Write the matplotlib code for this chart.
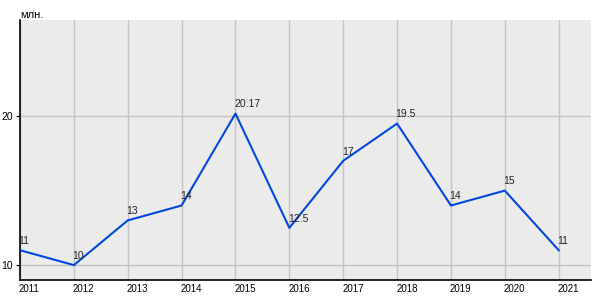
import matplotlib.pyplot as plt
import matplotlib.transforms as mtransforms

plt.rcParams['font.family'] = ['Liberation Sans', 'DejaVu Sans']

years = [2011, 2012, 2013, 2014, 2015, 2016, 2017, 2018, 2019, 2020, 2021]
values = [11, 10, 13, 14, 20.17, 12.5, 17, 19.5, 14, 15, 11]
labels = ['11', '10', '13', '14', '20.17', '12.5', '17', '19.5', '14', '15', '11']

fig = plt.figure(figsize=(6, 3), dpi=100)
ax = fig.add_axes([20 / 600, 20 / 300, 571 / 600, 260 / 300])
ax.set_facecolor('#ebebeb')

ax.plot(years, values, color='#0047e0', linewidth=1.5, zorder=3)
for x, y, t in zip(years, values, labels):
    ax.annotate(t, (x, y), xytext=(-1, 3), textcoords='offset points',
                fontsize=7.5, color='#222222', ha='left', va='bottom', zorder=4)

ax.set_xlim(2011, 2021.6)
ax.set_ylim(9.0, 26.45)
ax.set_xticks(years)
ax.set_xticklabels([])
ax.set_yticks([10, 20])
ax.grid(True, color='#c4c4c4', linewidth=1)
ax.set_axisbelow(True)

for s in ['top', 'right']:
    ax.spines[s].set_visible(False)
ax.spines['left'].set_linewidth(1.2)
ax.spines['bottom'].set_linewidth(1.2)
ax.tick_params(axis='x', length=0)
ax.tick_params(axis='y', length=3, labelsize=7.5, pad=2)

# year labels start at their tick, as in the original
trans = ax.get_xaxis_transform() + mtransforms.ScaledTranslation(-1 / 100, -4 / 100, fig.dpi_scale_trans)
for yr in years:
    ax.text(yr, 0, str(yr), transform=trans, fontsize=7, ha='left', va='top', clip_on=False)

fig.text(20 / 600, 1 - 15 / 300, 'млн.', fontsize=8, ha='left', va='center')

fig.savefig('out.png', dpi=100)
